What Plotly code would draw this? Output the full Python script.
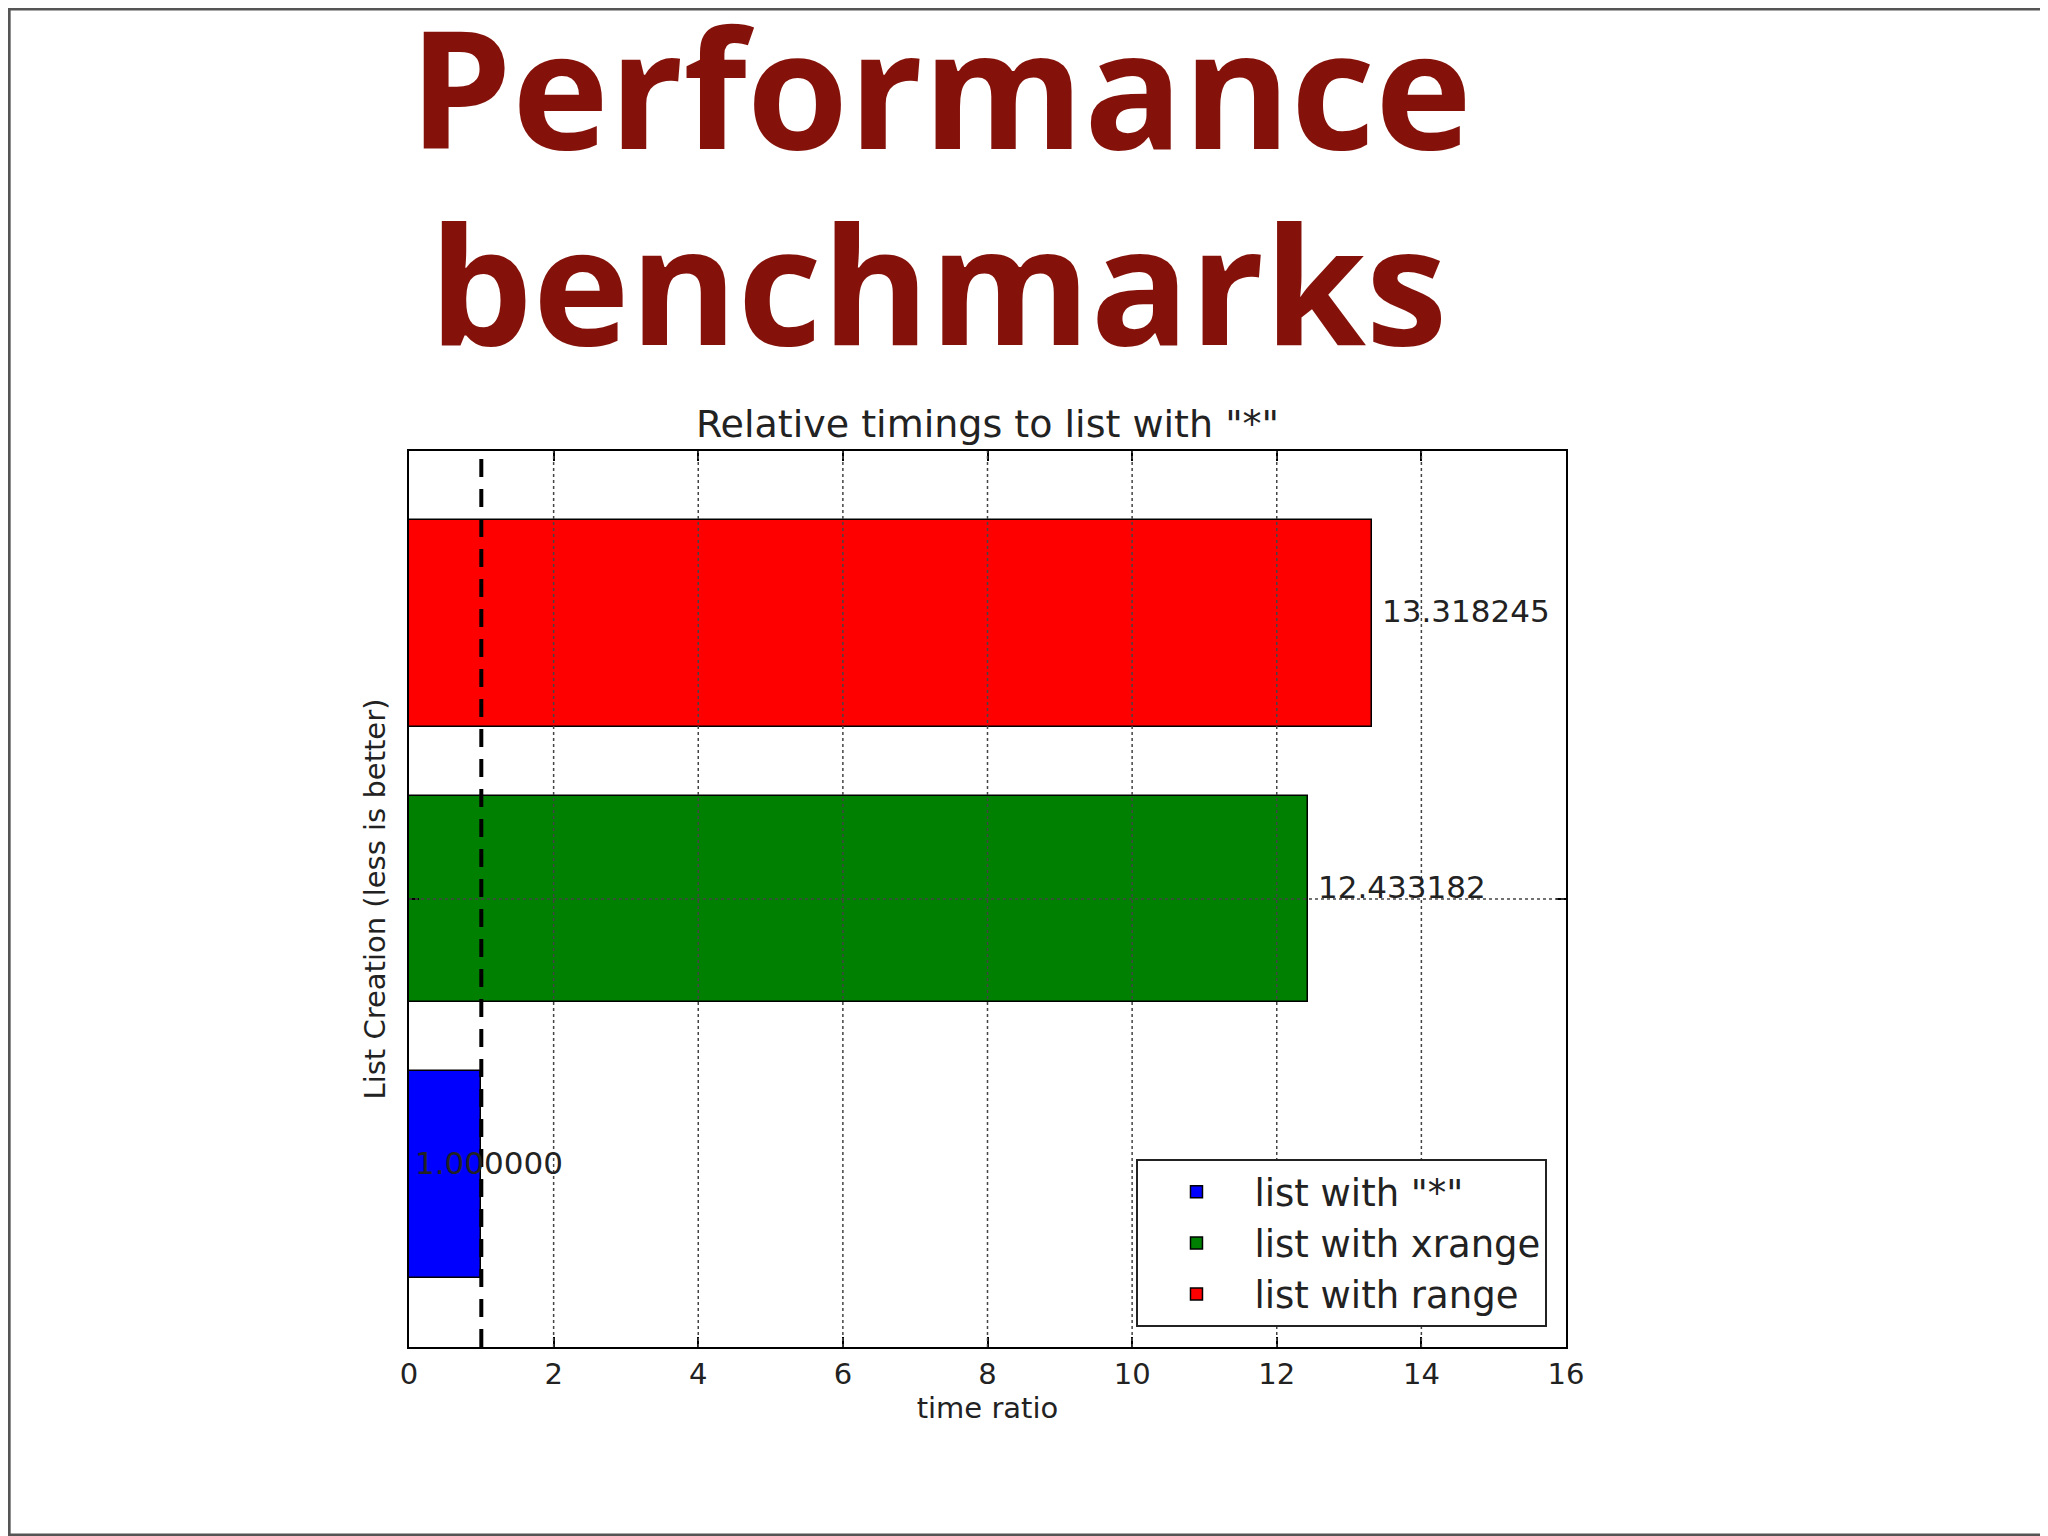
import plotly.graph_objects as go

# data
series_names = ['list with "*"', 'list with xrange', 'list with range']
time_ratios = [1.000000, 12.433182, 13.318245]
bar_positions = [0, 1, 2]
bar_colors = ['#0000ff', '#008000', '#ff0000']
x_ticks = [0, 2, 4, 6, 8, 10, 12, 14, 16]
y_ticks = [1]
baseline_ratio = 1.0

# the page body adds 8px around the figure, so the figure is 8px smaller
W, H = 2040, 1528
M = dict(l=401, r=482, t=443, b=189)
plot_w = W - M['l'] - M['r']
plot_h = H - M['t'] - M['b']

fig = go.Figure()

annotations = []
for name, val, pos, color in zip(series_names, time_ratios, bar_positions, bar_colors):
    fig.add_trace(go.Bar(
        x=[val], y=[pos], orientation='h', name=name,
        width=0.75,
        marker=dict(color=color, line=dict(color='black', width=1.5)),
        hoverinfo='x+name',
    ))
    # short bars get their label from the bar base, like the original
    small = val < 2
    annotations.append(dict(
        text='%f' % val, x=0 if small else val, y=pos, xref='x', yref='y',
        xanchor='left', yanchor='middle', xshift=4 if small else 8, yshift=12,
        showarrow=False, font=dict(family='DejaVu Sans', size=31, color='#222222'),
    ))

shapes = []
# matplotlib draws its dotted grid on top of the bars
for t in x_ticks[1:-1]:
    shapes.append(dict(type='line', xref='x', yref='paper', x0=t, x1=t, y0=0, y1=1,
                       line=dict(color='#444444', width=1.5, dash='dot'), layer='above'))
for t in y_ticks:
    shapes.append(dict(type='line', xref='paper', yref='y', x0=0, x1=1, y0=t, y1=t,
                       line=dict(color='#444444', width=1.5, dash='dot'), layer='above'))
# reference line at ratio 1
shapes.append(dict(type='line', xref='x', yref='paper', x0=baseline_ratio, x1=baseline_ratio,
                   y0=0, y1=1, line=dict(color='black', width=4, dash='18px,12px'), layer='above'))
# slide border
shapes.append(dict(type='rect', xref='paper', yref='paper',
                   x0=-M['l'] / plot_w + 0.001, x1=(W - M['l']) / plot_w - 0.001,
                   y0=-M['b'] / plot_h + 0.001, y1=(H - M['b']) / plot_h - 0.001,
                   line=dict(color='#555555', width=3), layer='below'))

title_font = dict(family='Open Sans', size=164, color='#84120a')
annotations += [
    dict(text='<b>Performance</b>', xref='paper', yref='paper', x=0.459, y=1.408,
         xanchor='center', yanchor='middle', showarrow=False, font=title_font),
    dict(text='<b>benchmarks</b>', xref='paper', yref='paper', x=0.457, y=1.189,
         xanchor='center', yanchor='middle', showarrow=False, font=title_font),
]

fig.update_layout(
    width=W, height=H,
    margin=M,
    paper_bgcolor='white',
    plot_bgcolor='white',
    title=dict(text='Relative timings to list with "*"', x=0.5, xref='paper', xanchor='center',
               y=1 - (M['t'] - 14) / H, yanchor='bottom',
               font=dict(family='DejaVu Sans', size=38, color='#222222')),
    font=dict(family='DejaVu Sans', color='#222222'),
    bargap=0,
    showlegend=True,
    legend=dict(x=0.984, y=0.022, xanchor='right', yanchor='bottom',
                bgcolor='white', bordercolor='#222222', borderwidth=2,
                font=dict(family='DejaVu Sans', size=37, color='#222222'),
                itemwidth=106, tracegroupgap=9),
    shapes=shapes,
    annotations=annotations,
)

fig.update_xaxes(
    range=[x_ticks[0], x_ticks[-1]], tickvals=x_ticks,
    showgrid=False, zeroline=False,
    showline=True, linecolor='black', linewidth=2, mirror='ticks',
    ticks='inside', ticklen=10, tickwidth=1.5, tickcolor='black',
    tickfont=dict(size=29),
    title=dict(text='time ratio', font=dict(size=29), standoff=2),
)
fig.update_yaxes(
    range=[-0.625, 2.625], tickvals=y_ticks, ticktext=[''],
    showgrid=False, zeroline=False,
    showline=True, linecolor='black', linewidth=2, mirror='ticks',
    ticks='inside', ticklen=10, tickwidth=1.5, tickcolor='black',
    title=dict(text='List Creation (less is better)', font=dict(size=29), standoff=10),
)

fig.write_html("out.html")
